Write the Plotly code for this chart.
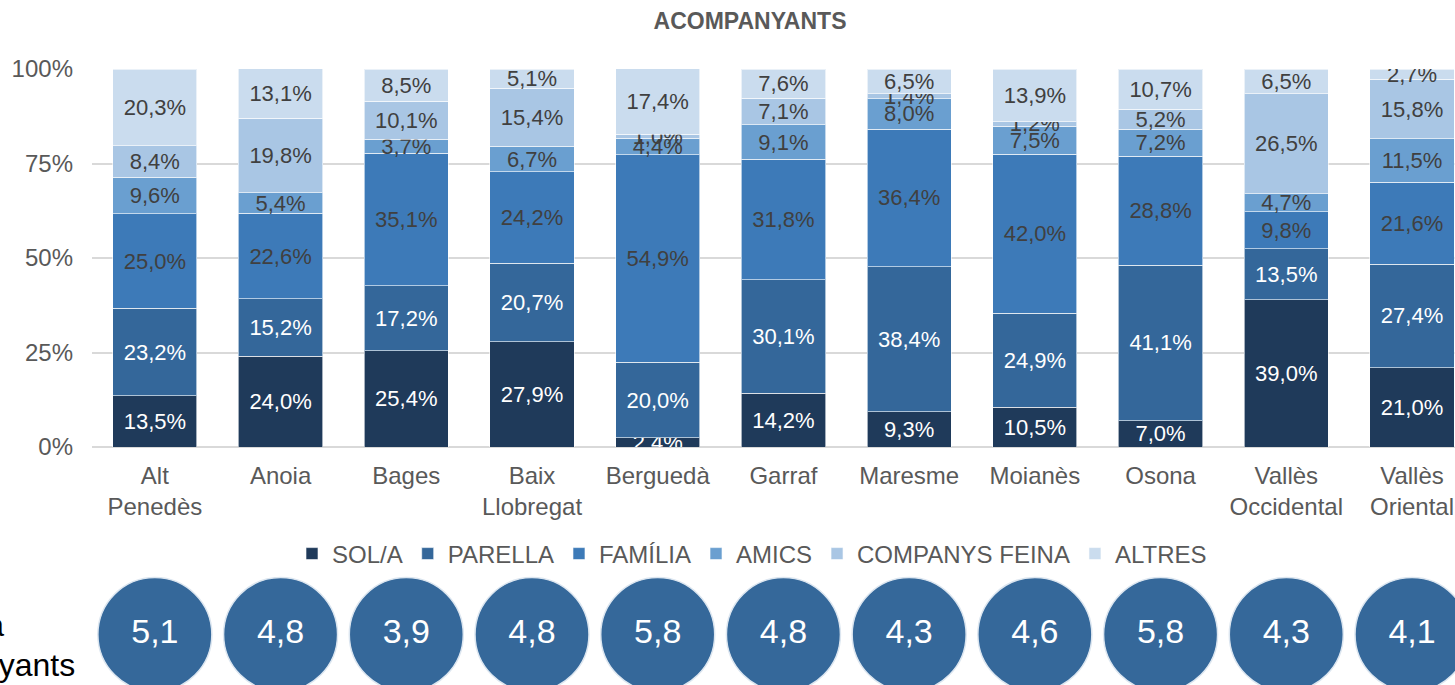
import plotly.graph_objects as go

categories = ["Alt<br>Penedès", "Anoia", "Bages", "Baix<br>Llobregat", "Berguedà", "Garraf",
              "Maresme", "Moianès", "Osona", "Vallès<br>Occidental", "Vallès<br>Oriental"]
series_names = ["SOL/A", "PARELLA", "FAMÍLIA", "AMICS", "COMPANYS FEINA", "ALTRES"]
sola = [13.5, 24.0, 25.4, 27.9, 2.4, 14.2, 9.3, 10.5, 7.0, 39.0, 21.0]
parella = [23.2, 15.2, 17.2, 20.7, 20.0, 30.1, 38.4, 24.9, 41.1, 13.5, 27.4]
familia = [25.0, 22.6, 35.1, 24.2, 54.9, 31.8, 36.4, 42.0, 28.8, 9.8, 21.6]
amics = [9.6, 5.4, 3.7, 6.7, 4.4, 9.1, 8.0, 7.5, 7.2, 4.7, 11.5]
companys = [8.4, 19.8, 10.1, 15.4, 1.0, 7.1, 1.4, 1.2, 5.2, 26.5, 15.8]
altres = [20.3, 13.1, 8.5, 5.1, 17.4, 7.6, 6.5, 13.9, 10.7, 6.5, 2.7]
mitjana = [5.1, 4.8, 3.9, 4.8, 5.8, 4.8, 4.3, 4.6, 5.8, 4.3, 4.1]
y_ticks = [0, 25, 50, 75, 100]
y_tick_labels = ["0%", "25%", "50%", "75%", "100%"]

colors = ["#1F3A5A", "#34679A", "#3D7AB8", "#6A9FD0", "#A9C6E4", "#CADCEE"]
text_colors = ["white", "white", "#404040", "#404040", "#404040", "#404040"]
values = [sola, parella, familia, amics, companys, altres]

FONT = "Liberation Sans, Arial, sans-serif"
GREY = "#595959"

fig = go.Figure()
for name, vals, col, tcol in zip(series_names, values, colors, text_colors):
    fig.add_trace(go.Bar(
        x=categories, y=vals, name=name,
        marker=dict(color=col, line=dict(color="rgba(255,255,255,0.6)", width=1)),
        texttemplate="%{y:.1f}%", textposition="inside", insidetextanchor="middle",
        textangle=0, constraintext="none",
        textfont=dict(color=tcol, size=22, family=FONT),
        xaxis="x", yaxis="y",
    ))

fig.add_trace(go.Scatter(
    x=categories, y=[0] * len(categories), customdata=mitjana,
    mode="markers+text", texttemplate="%{customdata:.1f}",
    textposition="middle center",
    textfont=dict(color="white", size=34, family=FONT),
    marker=dict(size=114, color="#35689A", line=dict(color="#DCE6F0", width=1.5)),
    showlegend=False, cliponaxis=False,
    xaxis="x2", yaxis="y2",
))

H = 685
W = 1455
L = 92
top = 69
bottom_px = 447
PH = H - top
PW = W - L
main_low = (H - bottom_px) / PH

fig.update_layout(
    width=W, height=H,
    margin=dict(l=L, r=0, t=top, b=0, autoexpand=False),
    paper_bgcolor="white", plot_bgcolor="white",
    barmode="stack", bargap=0.33,
    separators=",.",
    uniformtext=dict(minsize=22, mode="show"),
    font=dict(family=FONT, color=GREY, size=24),
    title=dict(text="<b>ACOMPANYANTS</b>", font=dict(size=23, color=GREY, family=FONT),
               x=750 / W, xref="container", xanchor="center",
               y=1 - 21 / H, yref="container", yanchor="middle"),
    xaxis=dict(range=[-0.5, 10.342], showgrid=False, showline=False, ticks="",
               tickfont=dict(size=24, color=GREY), anchor="y", automargin=False,
               ticklabelstandoff=12),
    yaxis=dict(domain=[main_low, 1], range=[0, 100], tickvals=y_ticks, ticktext=y_tick_labels,
               showgrid=True, gridcolor="#D9D9D9", gridwidth=1.5,
               zeroline=True, zerolinecolor="#D9D9D9", zerolinewidth=1.5,
               tickfont=dict(size=24, color=GREY), ticklen=0, ticks="", automargin=False,
               ticklabelstandoff=18),
    xaxis2=dict(range=[-0.5, 10.342], visible=False, anchor="y2", matches="x"),
    yaxis2=dict(domain=[0, 0.2], range=[-0.41, 0.59], visible=False, anchor="x2"),
    legend=dict(orientation="h", x=(752 - L) / PW, xanchor="center", y=(H - 554) / PH,
                yanchor="middle", traceorder="normal", bgcolor="rgba(0,0,0,0)",
                font=dict(size=24, color=GREY, family=FONT), itemwidth=30),
)

fig.add_annotation(text="Mitjana", xref="paper", yref="paper", x=-(L - 6) / PW,
                   xanchor="right", y=(H - 625) / PH, yanchor="middle",
                   showarrow=False, font=dict(size=32, color="black", family=FONT))
fig.add_annotation(text="acompanyants", xref="paper", yref="paper", x=-(L - 77) / PW,
                   xanchor="right", y=(H - 665) / PH, yanchor="middle",
                   showarrow=False, font=dict(size=32, color="black", family=FONT))

fig.write_html("out.html", config={"displayModeBar": False},
               post_script="document.body.style.margin='0';document.body.style.overflow='hidden';")
